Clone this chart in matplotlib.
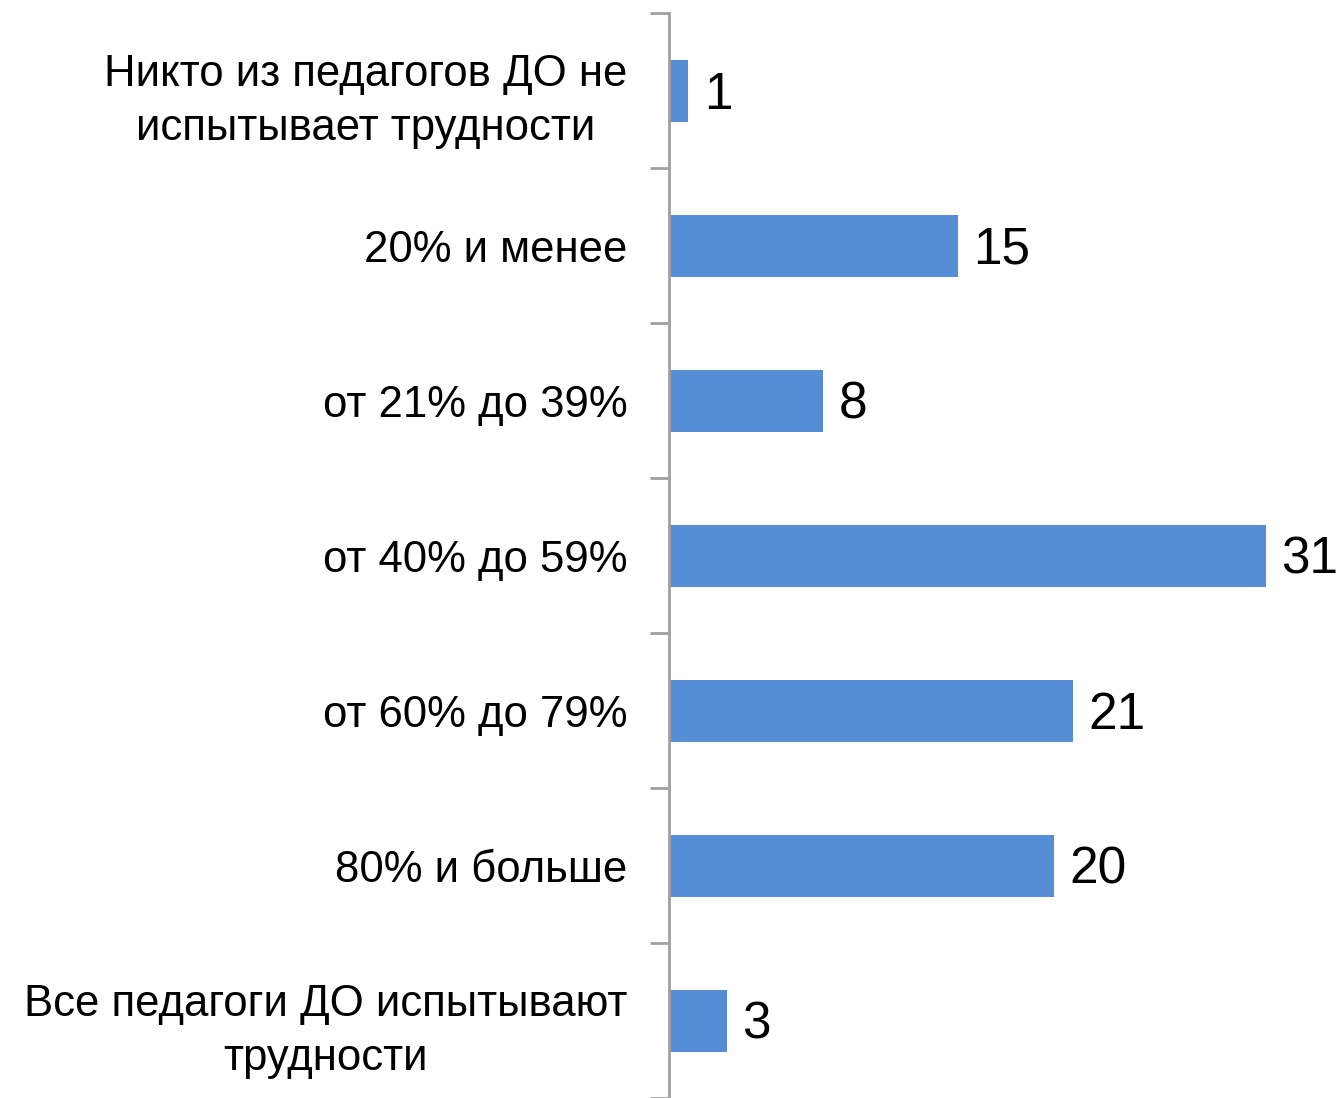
import matplotlib
matplotlib.use("Agg")
import matplotlib.pyplot as plt
import numpy as np

categories = [
    "Никто из педагогов ДО не\nиспытывает трудности",
    "20% и менее",
    "от 21% до 39%",
    "от 40% до 59%",
    "от 60% до 79%",
    "80% и больше",
    "Все педагоги ДО испытывают\nтрудности",
]
values = [1, 15, 8, 31, 21, 20, 3]

plt.rcParams['font.family'] = ['Liberation Sans', 'DejaVu Sans']

W, H = 1341, 1098
fig = plt.figure(figsize=(W / 100, H / 100), dpi=100)
ax = fig.add_axes([669 / W, 0, (W - 669) / W, (1098 - 13) / H])

n = len(categories)
y = np.arange(n)
ax.barh(y, values, height=0.40, color="#558ED5", zorder=2)
ax.set_ylim(n - 0.5, -0.5)
ax.set_xlim(0, 34.9)

ax.set_yticks(y)
ax.set_yticklabels(categories, fontsize=31.5, linespacing=1.42, ha="right",
                   multialignment="center")
ax.tick_params(axis="y", which="major", length=0, pad=30)
ax.set_yticks(np.arange(-0.5, n, 1.0), minor=True)
ax.tick_params(axis="y", which="minor", length=14, width=2, color="#A0A0A0")
ax.set_xticks([])

for s in ["top", "right", "bottom"]:
    ax.spines[s].set_visible(False)
ax.spines["left"].set_color("#A0A0A0")
ax.spines["left"].set_linewidth(2)

for yi, v in zip(y, values):
    ax.text(v + 0.8, yi + 0.03, str(v), va="center", ha="left", fontsize=37, color="black")

fig.savefig("out.png", dpi=100)
